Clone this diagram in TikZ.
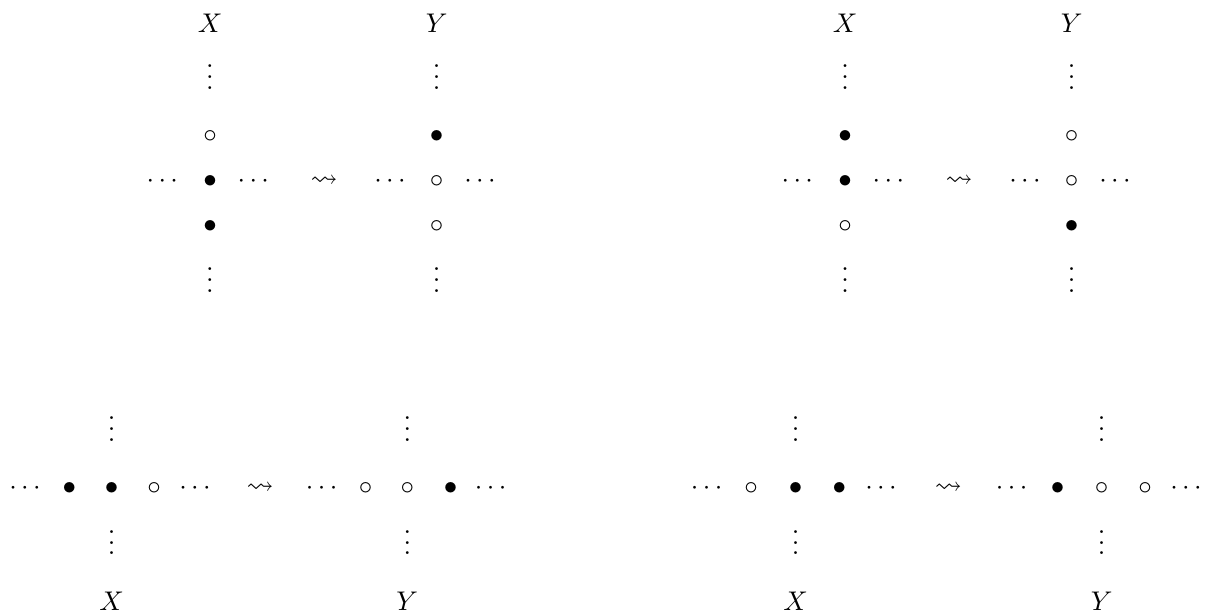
\documentclass[tikz,border=0pt]{standalone}
\usepackage{amssymb}
\tikzset{sym/.style={inner sep=0pt, outer sep=0pt},
  vd/.style={sym, anchor=base}}
\newcommand\mytoppanel[6]{%
  \node[sym] (X) at (210,23) {$X$};
  \node[sym] (Y) at (436.7,23) {$Y$};
  \node[vd] (xu) at (210,89.2) {$\vdots$};
  \node[sym] (x1) at (210,136) {$#1$};
  \node[sym] (xl) at (162.3,181.7) {$\cdots$};
  \node[sym] (x2) at (210,181.7) {$#2$};
  \node[sym] (xr) at (253.3,181.7) {$\cdots$};
  \node[sym] (x3) at (210,226.7) {$#3$};
  \node[vd] (xd) at (210,292.2) {$\vdots$};
  \node[sym] (ar) at (324,181.7) {$\rightsquigarrow$};
  \node[vd] (yu) at (436.7,89.2) {$\vdots$};
  \node[sym] (y1) at (436.7,136) {$#4$};
  \node[sym] (yl) at (390,181.7) {$\cdots$};
  \node[sym] (y2) at (436.7,181.7) {$#5$};
  \node[sym] (yr) at (480,181.7) {$\cdots$};
  \node[sym] (y3) at (436.7,226.7) {$#6$};
  \node[vd] (yd) at (436.7,292.2) {$\vdots$};
}
\begin{document}
\begin{tikzpicture}[x=0.3704pt,y=-0.3704pt]
\useasboundingbox (0,0) rectangle (1223,616);
\begin{scope}[name prefix=a-]
  \mytoppanel{\circ}{\bullet}{\bullet}{\bullet}{\circ}{\circ}
\end{scope}
\begin{scope}[shift={(635,0)}, name prefix=b-]
  \mytoppanel{\bullet}{\bullet}{\circ}{\circ}{\circ}{\bullet}
\end{scope}
% bottom left
\node[vd] (c-xu) at (111.7,441.2) {$\vdots$};
\node[sym] (c-xl) at (25,488.3) {$\cdots$};
\node[sym] (c-x0) at (69.3,488.3) {$\bullet$};
\node[sym] (c-x1) at (111.7,488.3) {$\bullet$};
\node[sym] (c-x2) at (154,488.3) {$\circ$};
\node[sym] (c-xr) at (195,488.3) {$\cdots$};
\node[vd] (c-xd) at (111.7,554.9) {$\vdots$};
\node[sym] (c-X) at (111.7,601.7) {$X$};
\node[sym] (c-ar) at (260,488.3) {$\rightsquigarrow$};
\node[vd] (c-yu) at (407.3,441.2) {$\vdots$};
\node[sym] (c-yl) at (321.7,488.3) {$\cdots$};
\node[sym] (c-y0) at (365.7,488.3) {$\circ$};
\node[sym] (c-y1) at (407.3,488.3) {$\circ$};
\node[sym] (c-y2) at (450.7,488.3) {$\bullet$};
\node[sym] (c-yr) at (490.7,488.3) {$\cdots$};
\node[vd] (c-yd) at (407.3,554.9) {$\vdots$};
\node[sym] (c-Y) at (407.3,601.7) {$Y$};
% bottom right
\node[vd] (d-xu) at (795.7,441.2) {$\vdots$};
\node[sym] (d-xl) at (706.7,488.3) {$\cdots$};
\node[sym] (d-x0) at (751,488.3) {$\circ$};
\node[sym] (d-x1) at (795.7,488.3) {$\bullet$};
\node[sym] (d-x2) at (839.3,488.3) {$\bullet$};
\node[sym] (d-xr) at (881,488.3) {$\cdots$};
\node[vd] (d-xd) at (795.7,554.9) {$\vdots$};
\node[sym] (d-X) at (795.7,601.7) {$X$};
\node[sym] (d-ar) at (948.3,488.3) {$\rightsquigarrow$};
\node[vd] (d-yu) at (1101.7,441.2) {$\vdots$};
\node[sym] (d-yl) at (1011.7,488.3) {$\cdots$};
\node[sym] (d-y0) at (1057.7,488.3) {$\bullet$};
\node[sym] (d-y1) at (1101.7,488.3) {$\circ$};
\node[sym] (d-y2) at (1145,488.3) {$\circ$};
\node[sym] (d-yr) at (1186,488.3) {$\cdots$};
\node[vd] (d-yd) at (1101.7,554.9) {$\vdots$};
\node[sym] (d-Y) at (1101.7,601.7) {$Y$};
\end{tikzpicture}
\end{document}
